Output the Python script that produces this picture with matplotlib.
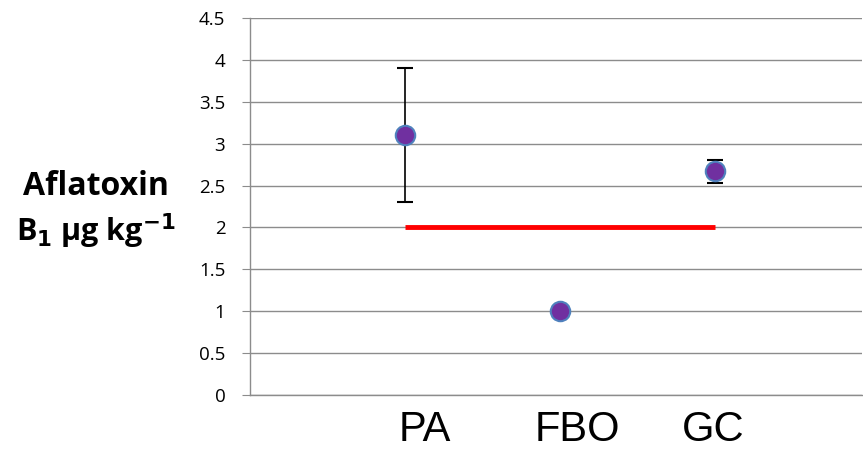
import numpy as np
import matplotlib.pyplot as plt
from matplotlib.transforms import ScaledTranslation

# chart data
categories = ["PA", "FBO", "GC"]
means = [3.1, 1.0, 2.67]
errors = [0.8, 0.0, 0.14]
limit_value = 2.0
y_ticks = [0, 0.5, 1, 1.5, 2, 2.5, 3, 3.5, 4, 4.5]

GRID = "#8c8c8c"

fig = plt.figure(figsize=(8.63, 4.49), dpi=100)
ax = fig.add_axes([0.2897, 0.1203, 0.7093, 0.8397])

x = np.arange(1, len(categories) + 1)

ax.set_axisbelow(True)
ax.yaxis.grid(True, color=GRID, lw=1)

# limit line across the categories
ax.plot([x[0], x[-1]], [limit_value, limit_value], color="#ff0000", lw=3.5,
        solid_capstyle="butt", zorder=2)

ax.errorbar(x, means, yerr=errors, fmt="o", color="black", ecolor="black",
            elinewidth=1.2, capsize=6, capthick=1.2,
            markerfacecolor="#7030a0", markeredgecolor="#4f81bd",
            markeredgewidth=1.5, markersize=14, zorder=3)

ax.set_xlim(0, 3.95)
ax.set_ylim(0, 4.5)
ax.set_yticks(y_ticks)
ax.set_yticklabels([f"{t:g}" for t in y_ticks], fontsize=13.5,
                   family=["Open Sans", "DejaVu Sans"])
ax.tick_params(axis="y", length=5.8, color=GRID, pad=12)

# category labels sit a little off their points in the original
ax.set_xticks(x)
ax.set_xticklabels(categories, fontsize=30,
                   family=["Liberation Sans", "DejaVu Sans"])
ax.tick_params(axis="x", length=0, pad=11)
label_shift_px = [20, 17, -2]
for lab, dx in zip(ax.get_xticklabels(), label_shift_px):
    lab.set_transform(lab.get_transform() +
                      ScaledTranslation(dx / 100, 0, fig.dpi_scale_trans))

for side in ("top", "right"):
    ax.spines[side].set_visible(False)
for side in ("left", "bottom"):
    ax.spines[side].set_color(GRID)
    ax.spines[side].set_linewidth(1)

label_font = ["Open Sans", "DejaVu Sans"]
fig.text(0.111, 0.585, "Aflatoxin", ha="center", va="center", fontsize=23,
         fontweight="bold", family=label_font)
fig.text(0.111, 0.485, r"B$_\mathbf{1}$ µg kg$^\mathbf{-1}$", ha="center",
         va="center", fontsize=22, fontweight="bold", family=label_font)

fig.savefig("out.png", dpi=100)
